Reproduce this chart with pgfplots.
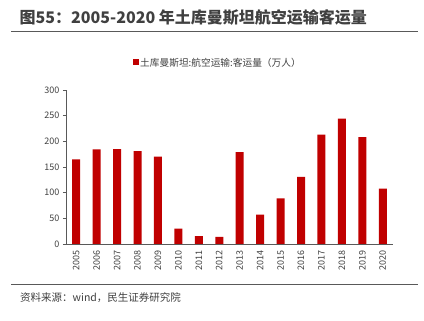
\documentclass[border=0pt]{standalone}
\usepackage{fontspec}
\usepackage{pgfplots}
\pgfplotsset{compat=1.18}
\setmainfont{Noto Sans CJK SC}
\setsansfont{Noto Sans CJK SC}
\definecolor{barred}{HTML}{C00000}
\definecolor{txtgray}{HTML}{404040}
\definecolor{linegray}{HTML}{595959}
\begin{document}
\begin{tikzpicture}
\path[use as bounding box] (0pt,0pt) rectangle (424pt,321pt);
\node[anchor=west,text=txtgray,font=\fontsize{16}{18}\selectfont\bfseries,inner sep=0] at (19.5pt,303pt) {图55：2005-2020 年土库曼斯坦航空运输客运量};
\draw[linegray,line width=1pt] (11pt,289.5pt) -- (418pt,289.5pt);
\fill[barred] (133pt,256pt) rectangle (138.5pt,261.5pt);
\node[anchor=west,text=txtgray,font=\fontsize{9.7}{11}\selectfont,inner sep=0] at (140pt,258.5pt) {土库曼斯坦:航空运输:客运量（万人）};
\begin{axis}[
  at={(66pt,77pt)}, anchor=south west,
  scale only axis, width=327pt, height=154pt,
  ymin=0, ymax=300, ytick={0,50,...,300},
  xmin=-0.5, xmax=15.5,
  xtick={0,...,15},
  xticklabels={2005,2006,2007,2008,2009,2010,2011,2012,2013,2014,2015,2016,2017,2018,2019,2020},
  xticklabel style={rotate=90,anchor=east,font=\fontsize{9}{10}\selectfont,text=txtgray},
  yticklabel style={font=\fontsize{9}{10}\selectfont,text=txtgray},
  /pgf/number format/assume math mode=true,
  axis x line*=bottom, axis y line*=left,
  axis line style={linegray,line width=0.8pt,-},
  extra x ticks={-0.5,0.5,...,15.5}, extra x tick labels={},
  extra x tick style={major tick length=4pt, tick style={linegray,line width=0.8pt}, tick align=outside},
  major x tick style={draw=none},
  y tick style={linegray,line width=0.8pt},
  tick align=outside, major tick length=3pt,
  ybar, bar width=8pt, 
]
\addplot[fill=barred,draw=none] coordinates {
(0,165) (1,184.5) (2,185) (3,181) (4,170) (5,30) (6,15.5) (7,14)
(8,179) (9,57) (10,89) (11,131) (12,213) (13,244) (14,208) (15,108)};
\end{axis}
\draw[linegray,line width=1pt] (11pt,36.5pt) -- (418pt,36.5pt);
\node[anchor=west,text=txtgray,font=\fontsize{10.5}{12}\selectfont,inner sep=0] at (20pt,23pt) {资料来源：wind，民生证券研究院};
\end{tikzpicture}
\end{document}
